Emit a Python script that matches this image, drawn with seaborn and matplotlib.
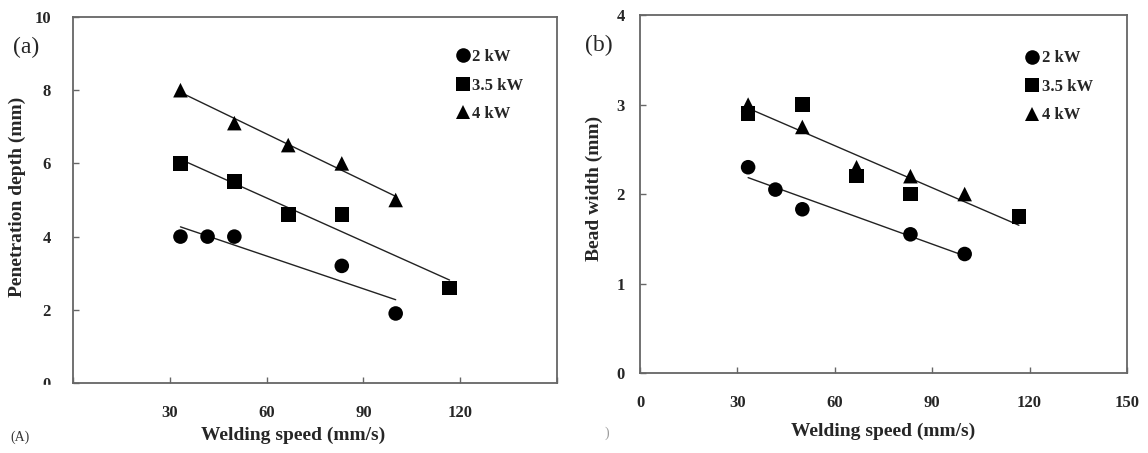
import pandas as pd
import matplotlib
matplotlib.use('Agg')
import matplotlib.pyplot as plt
import seaborn as sns
from matplotlib.patches import Rectangle

# (a) penetration depth vs welding speed
speed_2kw_a = [33.3, 41.7, 50.0, 83.3, 100.0]
depth_2kw = [4.0, 4.0, 4.0, 3.2, 1.9]
speed_35kw_a = [33.3, 50.0, 66.7, 83.3, 116.7]
depth_35kw = [6.0, 5.5, 4.6, 4.6, 2.6]
speed_4kw_a = [33.3, 50.0, 66.7, 83.3, 100.0]
depth_4kw = [8.0, 7.1, 6.5, 6.0, 5.0]

# (b) bead width vs welding speed
speed_2kw_b = [33.3, 41.7, 50.0, 83.3, 100.0]
width_2kw = [2.3, 2.05, 1.83, 1.55, 1.33]
speed_35kw_b = [33.3, 50.0, 66.7, 83.3, 116.7]
width_35kw = [2.9, 3.0, 2.2, 2.0, 1.75]
speed_4kw_b = [33.3, 50.0, 66.7, 83.3, 100.0]
width_4kw = [3.0, 2.75, 2.3, 2.2, 2.0]

powers = ['2 kW', '3.5 kW', '4 kW']
markers = {'2 kW': 'o', '3.5 kW': 's', '4 kW': '^'}


def make_df(groups):
    rows = []
    for p, xs, ys in groups:
        for x, y in zip(xs, ys):
            rows.append({'speed': x, 'value': y, 'power': p})
    return pd.DataFrame(rows)


df_a = make_df([('2 kW', speed_2kw_a, depth_2kw),
                ('3.5 kW', speed_35kw_a, depth_35kw),
                ('4 kW', speed_4kw_a, depth_4kw)])
df_b = make_df([('2 kW', speed_2kw_b, width_2kw),
                ('3.5 kW', speed_35kw_b, width_35kw),
                ('4 kW', speed_4kw_b, width_4kw)])

sns.set_style('ticks')
plt.rcParams['font.family'] = ['Liberation Serif', 'DejaVu Serif']

fig = plt.figure(figsize=(11.48, 4.53), dpi=100)
ax1 = fig.add_axes([0.0636, 0.1545, 0.4216, 0.808])
ax2 = fig.add_axes([0.5575, 0.1766, 0.4242, 0.790])

line_kws = {'lw': 1.0, 'color': '#222222'}

# panel (a): one fit per power
for p in powers:
    sub = df_a[df_a['power'] == p]
    sns.regplot(data=sub, x='speed', y='value', scatter=False, ci=None,
                line_kws=line_kws, ax=ax1)

# panel (b): 2 kW alone, 3.5 kW and 4 kW pooled
sub = df_b[df_b['power'] == '2 kW']
sns.regplot(data=sub, x='speed', y='value', scatter=False, ci=None,
            line_kws=line_kws, ax=ax2)
sub = df_b[df_b['power'] != '2 kW']
sns.regplot(data=sub, x='speed', y='value', scatter=False, ci=None,
            line_kws=line_kws, ax=ax2)

for ax, df in [(ax1, df_a), (ax2, df_b)]:
    sns.scatterplot(data=df, x='speed', y='value', style='power',
                    style_order=powers, markers=markers, color='black',
                    s=110, linewidth=0, ax=ax, zorder=3)

tick_font = {'fontweight': 'bold', 'fontsize': 12}
label_font = {'fontweight': 'bold', 'fontsize': 14}

for ax in (ax1, ax2):
    ax.set_xlim(0, 150)
    for s in ax.spines.values():
        s.set_color('#666666')
        s.set_linewidth(1.3)
    ax.tick_params(direction='in', length=4, width=1.0, color='#666666')
    handles, labels = ax.get_legend_handles_labels()
    ax.legend(handles, labels, frameon=False, loc='upper left',
              handletextpad=0.05, labelspacing=0.75, handlelength=1.0,
              borderaxespad=0, markerscale=1.0,
              prop={'weight': 'bold', 'size': 12})

ax1.set_ylim(0, 10)
ax1.set_xticks([0, 30, 60, 90, 120, 150])
ax1.set_xticklabels(['', '30', '60', '90', '120', ''], **tick_font)
ax1.set_yticks([0, 2, 4, 6, 8, 10])
ax1.set_yticklabels(['0', '2', '4', '6', '8', '10'], **tick_font)
ax1.tick_params(axis='y', pad=16)
ax1.tick_params(axis='x', pad=16)
ax1.set_xlabel('Welding speed (mm/s)', **label_font)
ax1.set_ylabel('Penetration depth (mm)', **label_font)
ax1.xaxis.set_label_coords(0.455, -0.12)
ax1.yaxis.set_label_coords(-0.097, 0.508)
ax1.get_legend().set_bbox_to_anchor((0.775, 0.93))

ax2.set_ylim(0, 4)
ax2.set_xticks([0, 30, 60, 90, 120, 150])
ax2.set_xticklabels(['0', '30', '60', '90', '120', '150'], **tick_font)
ax2.set_yticks([0, 1, 2, 3, 4])
ax2.set_yticklabels(['0', '1', '2', '3', '4'], **tick_font)
ax2.tick_params(axis='y', pad=11)
ax2.tick_params(axis='x', pad=16)
ax2.set_xlabel('Welding speed (mm/s)', **label_font)
ax2.set_ylabel('Bead width (mm)', **label_font)
ax2.xaxis.set_label_coords(0.5, -0.14)
ax2.yaxis.set_label_coords(-0.076, 0.517)
ax2.get_legend().set_bbox_to_anchor((0.775, 0.92))

# white mask over the lower-left corner, as in the scanned figure
fig.add_artist(Rectangle((0, 0), 78 / 1148, (453 - 384.5) / 453,
                         transform=fig.transFigure, color='white', zorder=5))

fig.text(13 / 1148, 1 - 47 / 453, '(a)', fontsize=17, va='center', zorder=6)
fig.text(585 / 1148, 1 - 45 / 453, '(b)', fontsize=17, va='center', zorder=6)
fig.text(10 / 1148, 1 - 437 / 453, '(A)', fontsize=10, va='center',
         color='#333333', zorder=6)
fig.text(605 / 1148, 1 - 433 / 453, ')', fontsize=10, va='center',
         color='#999999', zorder=6)

fig.savefig('out.png', dpi=100)
